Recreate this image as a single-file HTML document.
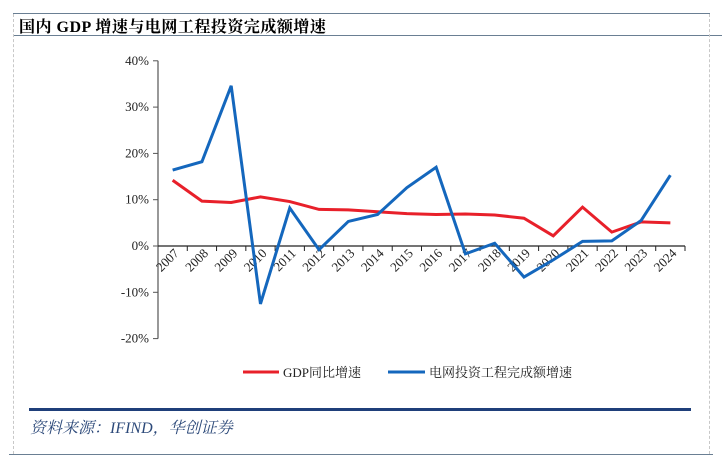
<!DOCTYPE html>
<html><head><meta charset="utf-8"><style>
body{margin:0;width:722px;height:463px;background:#fff;overflow:hidden;position:relative;font-family:"Liberation Serif","Noto Serif CJK SC",serif}
</style></head><body>
<div style="position:absolute;left:13px;top:13px;width:697px;height:1px;background:#6a7f93"></div>
<div style="position:absolute;left:13px;top:35px;width:709px;height:1px;background:#6a7f93"></div>
<div style="position:absolute;left:13px;top:14px;width:0;height:440px;border-left:1px dashed #c8c8c8"></div>
<div style="position:absolute;left:709px;top:14px;width:0;height:440px;border-left:1px dashed #c8c8c8"></div>
<div style="position:absolute;left:9px;top:454px;width:704px;height:1px;background:#6a7f93"></div>
<div style="position:absolute;left:19px;top:14px;font-size:16px;font-weight:bold;color:#000;font-family:'Liberation Serif','Noto Serif CJK SC',serif;letter-spacing:0.5px">国内 GDP 增速与电网工程投资完成额增速</div>
<div style="position:absolute;left:29px;top:408px;width:662px;height:3px;background:#1f3f7a"></div>
<div style="position:absolute;left:30px;top:415px;font-size:16px;font-style:italic;color:#2d4a7a;font-family:'Liberation Serif','Noto Serif CJK SC',serif">资料来源：IFIND，华创证券</div>
<svg id="chart" width="722" height="463" style="position:absolute;left:0;top:0"></svg>
<script>
const years=["2007","2008","2009","2010","2011","2012","2013","2014","2015","2016","2017","2018","2019","2020","2021","2022","2023","2024"];
const gdp=[14.2,9.7,9.4,10.6,9.6,7.9,7.8,7.4,7.0,6.8,6.9,6.7,6.0,2.2,8.4,3.0,5.2,5.0];
const grid=[16.4,18.2,34.6,-12.5,8.2,-0.8,5.3,6.8,12.6,17.0,-1.7,0.6,-6.7,-3.0,1.0,1.1,5.5,15.3];
const yTicks=[40,30,20,10,0,-10,-20];
const NS="http://www.w3.org/2000/svg";
const svg=document.getElementById('chart');
const x0=158,x1=685,y0=246,pxPer=4.63;
const step=(x1-x0)/years.length;
const X=i=>x0+step*(i+0.5);
const Y=v=>y0-v*pxPer;
function mk(t,a){const e=document.createElementNS(NS,t);for(const k in a)e.setAttribute(k,a[k]);svg.appendChild(e);return e;}
let e=mk('line',{x1:x0,x2:x0,y1:Y(40),y2:Y(-20),stroke:'#555','stroke-width':1.2});


yTicks.forEach(v=>{
 let t=mk('line',{x1:x0-5,x2:x0,y1:Y(v),y2:Y(v),stroke:'#555'});
 
 
 let l=mk('text',{x:x0-9,y:Y(v)+4,'text-anchor':'end','font-size':13,fill:'#222'});
 l.textContent=v+'%';
 
 
});
e=mk('line',{x1:x0,x2:x1,y1:y0,y2:y0,stroke:'#222','stroke-width':1.2});


years.forEach((yr,i)=>{
 let t=mk('line',{x1:x0+step*(i+1),x2:x0+step*(i+1),y1:y0,y2:y0+5,stroke:'#222'});
 
 
 let cx=X(i)+7,cy=y0+8;
 let l=mk('text',{x:cx,y:cy,'text-anchor':'end','font-size':13,fill:'#222',transform:`rotate(-45 ${cx} ${cy})`});
 l.textContent=yr;
 
 
});
function line(d,c,n){
 const p=mk('polyline',{points:d.map((v,i)=>X(i)+','+Y(v)).join(' '),fill:'none',stroke:c,'stroke-width':3,'stroke-linejoin':'miter'});
 
 
}
line(gdp,'#e8202a','gdp-growth-line');
line(grid,'#1467bd','grid-investment-line');
let g=mk('line',{x1:243,x2:279,y1:372,y2:372,stroke:'#e8202a','stroke-width':3});


let gt=mk('text',{x:283,y:377,'font-size':13,fill:'#222'});
gt.textContent='GDP同比增速';


let b=mk('line',{x1:388,x2:425,y1:372,y2:372,stroke:'#1467bd','stroke-width':3});


let bt=mk('text',{x:429,y:377,'font-size':13,fill:'#222'});
bt.textContent='电网投资工程完成额增速';


</script>
</body></html>
